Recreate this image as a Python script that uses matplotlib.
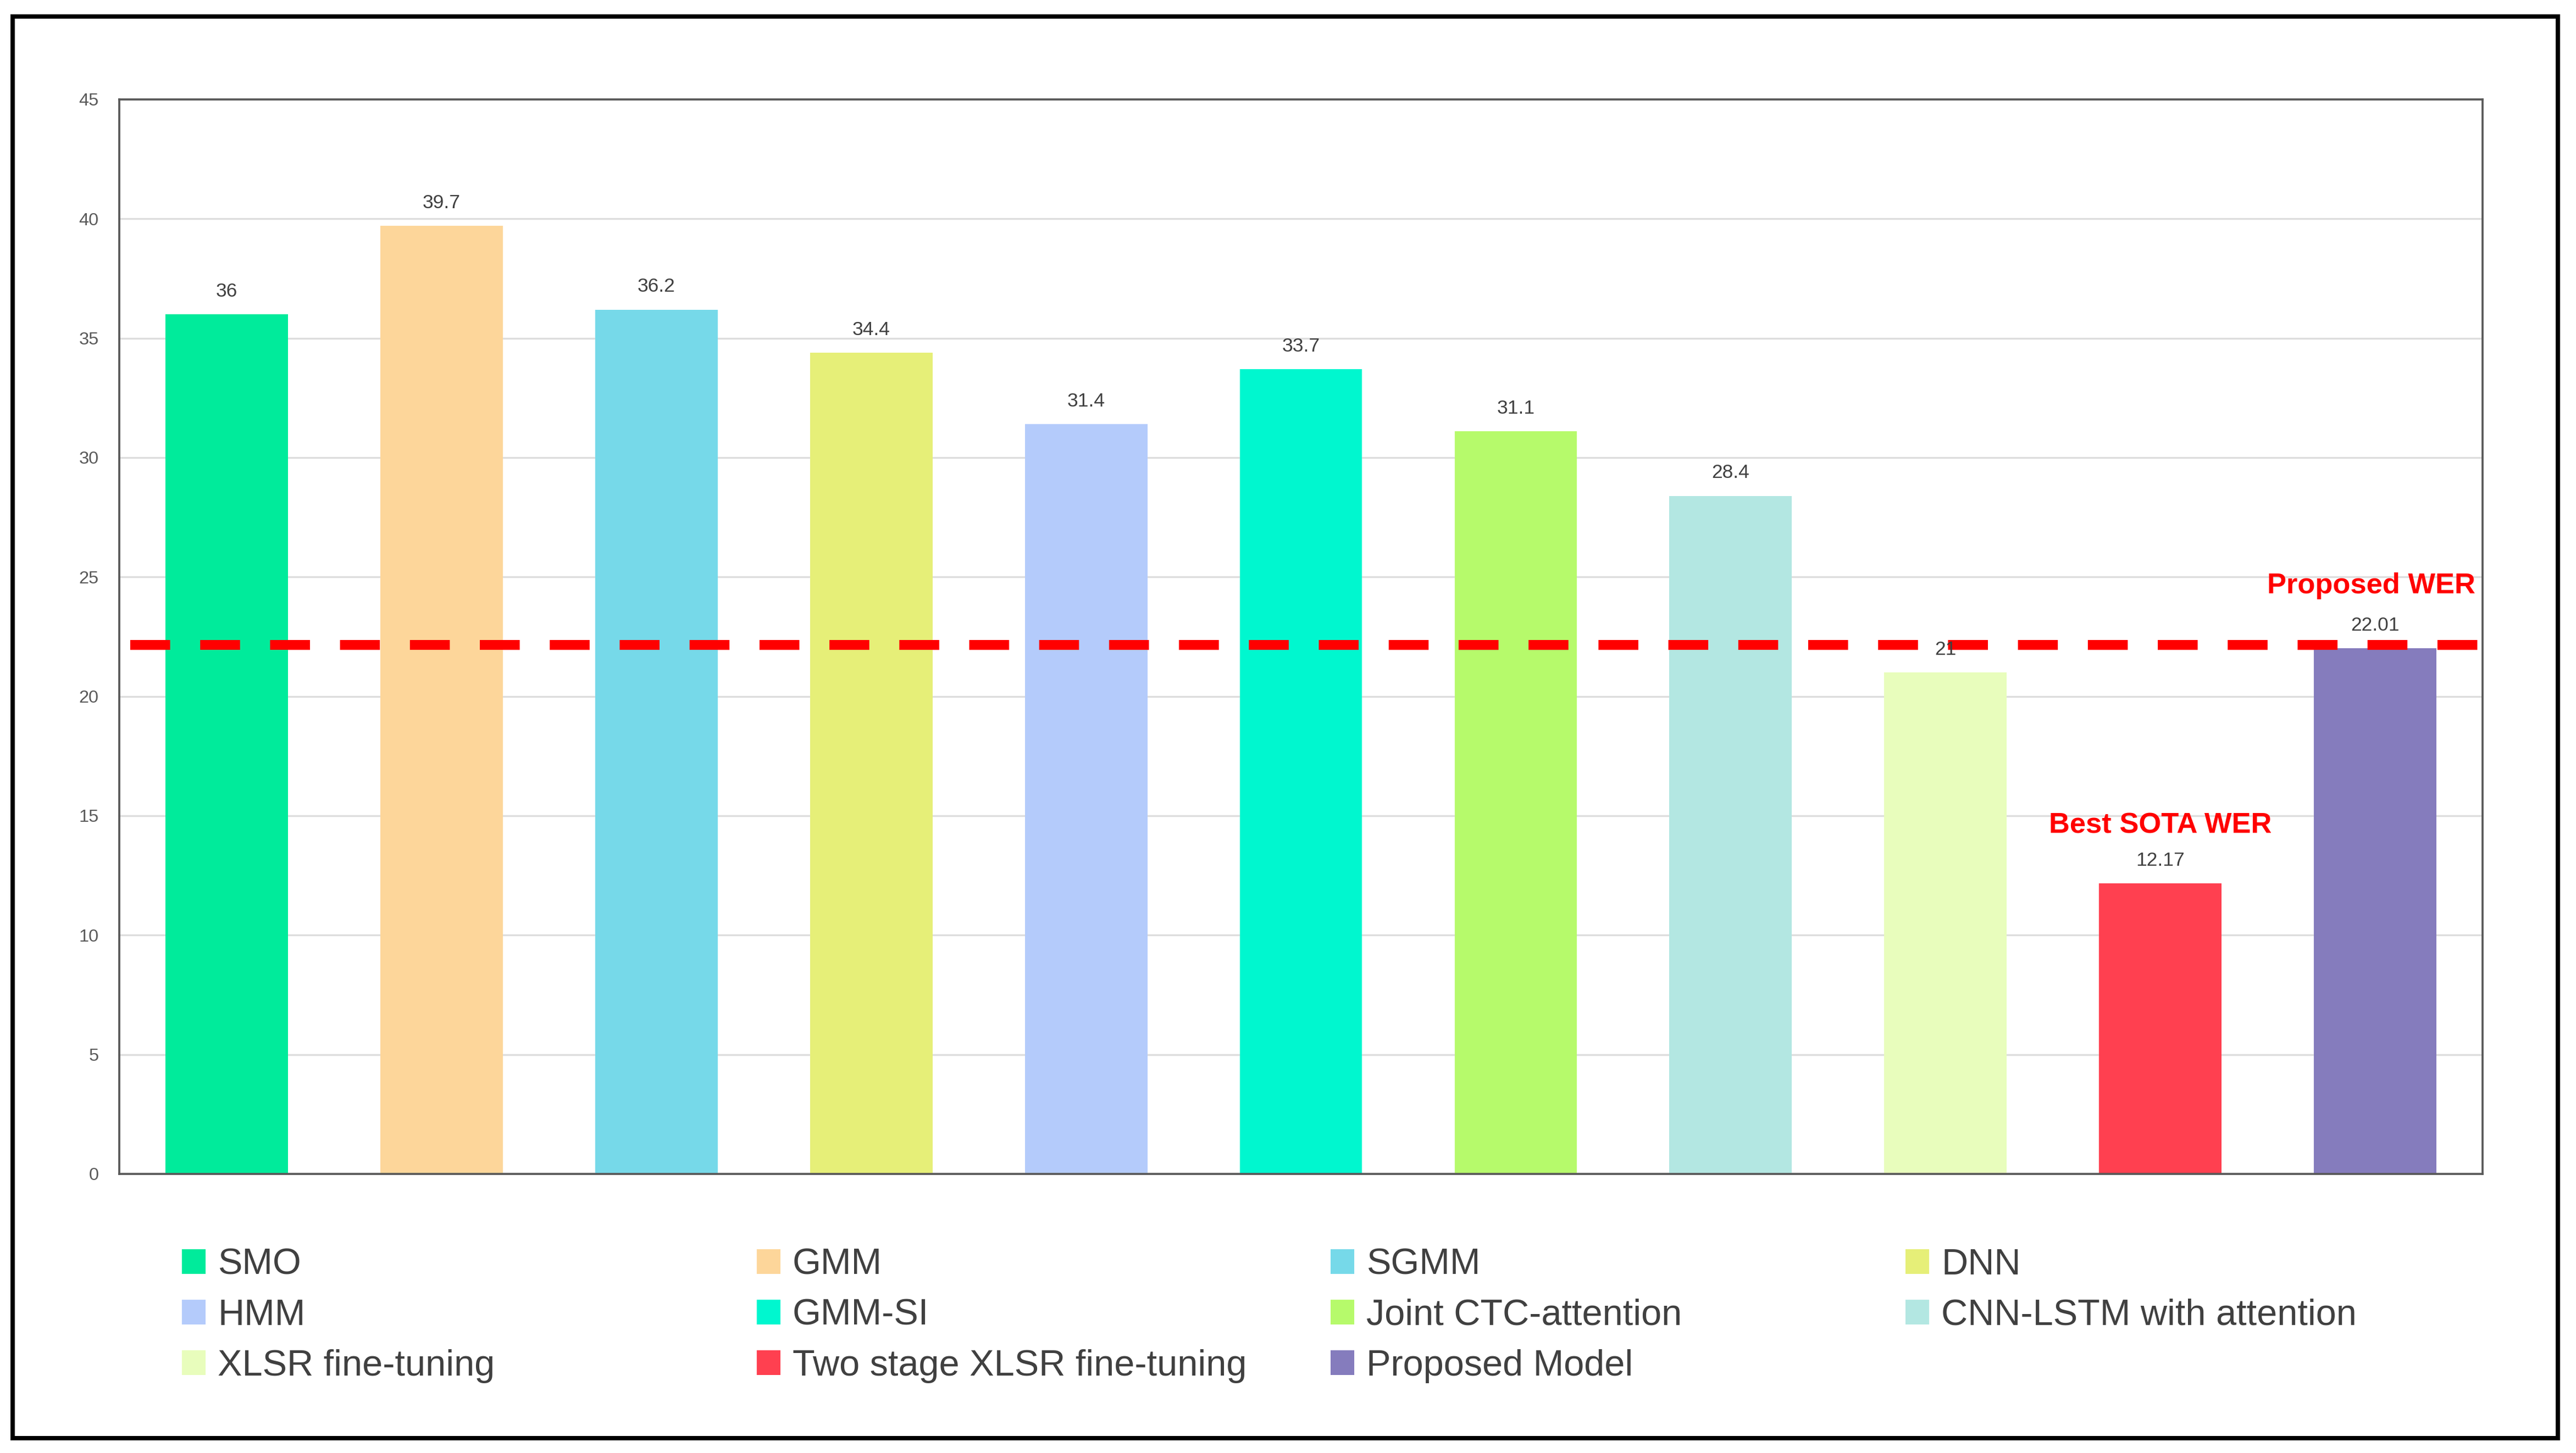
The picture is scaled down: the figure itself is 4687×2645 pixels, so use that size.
import matplotlib
matplotlib.use("Agg")
import matplotlib.pyplot as plt
from matplotlib.patches import Patch, Rectangle

# data
models = ["SMO", "GMM", "SGMM", "DNN", "HMM", "GMM-SI", "Joint CTC-attention",
          "CNN-LSTM with attention", "XLSR fine-tuning",
          "Two stage XLSR fine-tuning", "Proposed Model"]
wer = [36, 39.7, 36.2, 34.4, 31.4, 33.7, 31.1, 28.4, 21, 12.17, 22.01]
colors = ["#00EB9B", "#FDD69A", "#76D9E9", "#E6EF78", "#B4CBFB", "#00F7CF",
          "#B6FA6B", "#B3E7E2", "#E8FDBC", "#FF4050", "#857CBD"]
proposed_wer_line = 22.15
yticks = [0, 5, 10, 15, 20, 25, 30, 35, 40, 45]
best_idx = 9
proposed_idx = 10

plt.rcParams['font.family'] = ['Liberation Sans', 'DejaVu Sans']

W, H = 4687, 2645
fig = plt.figure(figsize=(W / 300, H / 300), dpi=300)
ax = fig.add_axes([217 / W, 1 - 2137 / H, 4300 / W, 1956 / H])

x = list(range(len(models)))
ax.bar(x, wer, width=0.57, color=colors, zorder=2)
ax.set_xlim(-0.5, len(models) - 0.5)
ax.set_ylim(0, 45)
ax.set_yticks(yticks)
ax.set_xticks([])
ax.yaxis.grid(True, color="#DDDDDD", lw=0.8)
ax.set_axisbelow(True)
ax.tick_params(axis="y", length=0, pad=9, labelsize=7.8, labelcolor="#595959")
for s in ax.spines.values():
    s.set_color("#595959")
    s.set_linewidth(0.9)

for i, v in enumerate(wer):
    ax.annotate(f"{v:g}", (i, v), xytext=(0, 10), textcoords="offset points",
                ha="center", va="center", fontsize=8.5, color="#404040", zorder=4)

ax.axhline(proposed_wer_line, xmin=0.0047, xmax=1, color="#FF0000", lw=4.3,
           dashes=(4.05, 3.05), zorder=3)

ax.annotate("Best SOTA WER", (best_idx, wer[best_idx]), xytext=(0, 25.3),
            textcoords="offset points", ha="center", va="center",
            fontsize=12.6, fontweight="bold", color="#FF0000", zorder=5)
ax.annotate("Proposed WER", (proposed_idx, wer[proposed_idx]), xytext=(-1.7, 27.3),
            textcoords="offset points", ha="center", va="center",
            fontsize=12.6, fontweight="bold", color="#FF0000", zorder=5)

# legend: 4 columns filled row by row
handles = [Patch(facecolor=c, edgecolor="none") for c in colors]
col_x = [331, 1377, 2421, 3467]
legend_top = 1 - 2272 / H
for c in range(4):
    idx = list(range(c, len(models), 4))
    fig.legend([handles[i] for i in idx], [models[i] for i in idx],
               loc="upper left", bbox_to_anchor=(col_x[c] / W, legend_top),
               frameon=False, fontsize=16, handlelength=0.645, handleheight=0.645,
               handletextpad=0.33, labelspacing=0.45, borderpad=0,
               borderaxespad=0, labelcolor="#404040")

# outer black frame
fig.add_artist(Rectangle((23.5 / W, 1 - 2618 / H), (4654 - 23.5) / W, (2618 - 30) / H,
                         transform=fig.transFigure, fill=False, edgecolor="black", lw=1.9))

fig.savefig("out.png", dpi=300)
